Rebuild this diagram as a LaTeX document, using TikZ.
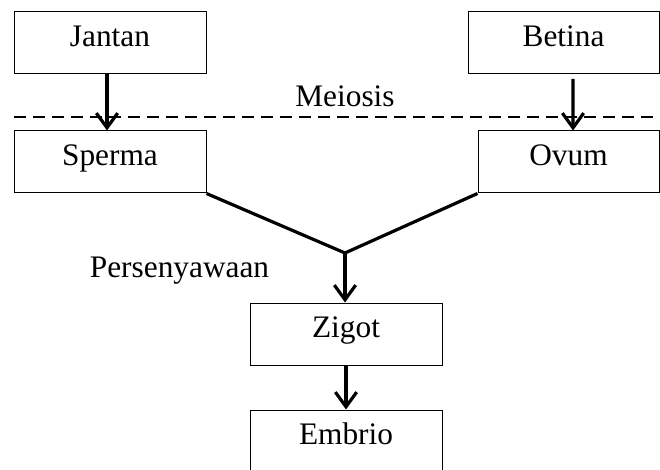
\documentclass[tikz,border=0pt]{standalone}
\usepackage{fontspec}
\setmainfont{Liberation Serif}
\usetikzlibrary{arrows.meta}
\begin{document}
\begin{tikzpicture}[x=0.75pt,y=-0.75pt,
  font=\fontsize{23.5}{28}\selectfont,
  box/.style={draw=black,line width=0.75pt,minimum height=46.5pt,inner sep=0pt,
    text height=0.72em,text depth=0.16em},
  arr/.style={line width=2.4pt,-{Straight Barb[length=11pt,width=16pt,line width=2.4pt]}},
  link/.style={line width=2.4pt},
  lbl/.style={anchor=base,inner sep=0pt}]
\clip (0,0) rectangle (660,470);
\fill[white] (0,0) rectangle (660,470);
% boxes
\node[box,minimum width=144pt] (jantan) at (110,42.5) {Jantan};
\node[box,minimum width=144pt] (sperma) at (110,162) {Sperma};
\node[box,minimum width=143.25pt] (betina) at (563.5,42.5) {Betina};
\node[box,minimum width=135.75pt] (ovum) at (568.5,162) {Ovum};
\node[box,minimum width=144pt] (zigot) at (346,334) {Zigot};
\node[box,minimum width=144pt] (embrio) at (346,441) {Embrio};
% dashed meiosis line
\coordinate (dl) at (14,117);
\coordinate (dr) at (662,117);
\draw[line width=1.9pt,dash pattern=on 9pt off 5.25pt] (dl) -- (dr);
\node[lbl] (meiosis) at (345,107) {Meiosis};
\node[lbl] (pers) at (179.5,277) {Persenyawaan};
% arrows
\draw[arr] ([xshift=-2.25pt]jantan.south) -- ([xshift=-2.25pt]sperma.north);
\draw[arr] ([shift={(9.5,5)}]betina.south) -- ([xshift=3.4pt]ovum.north);
\coordinate (m) at (345,253);
\draw[link,line join=round] (sperma.south east) -- (m) -- (ovum.south west);
\draw[arr] (m) -- (m |- zigot.north);
\draw[arr] (zigot.south) -- (embrio.north);
\end{tikzpicture}
\end{document}
